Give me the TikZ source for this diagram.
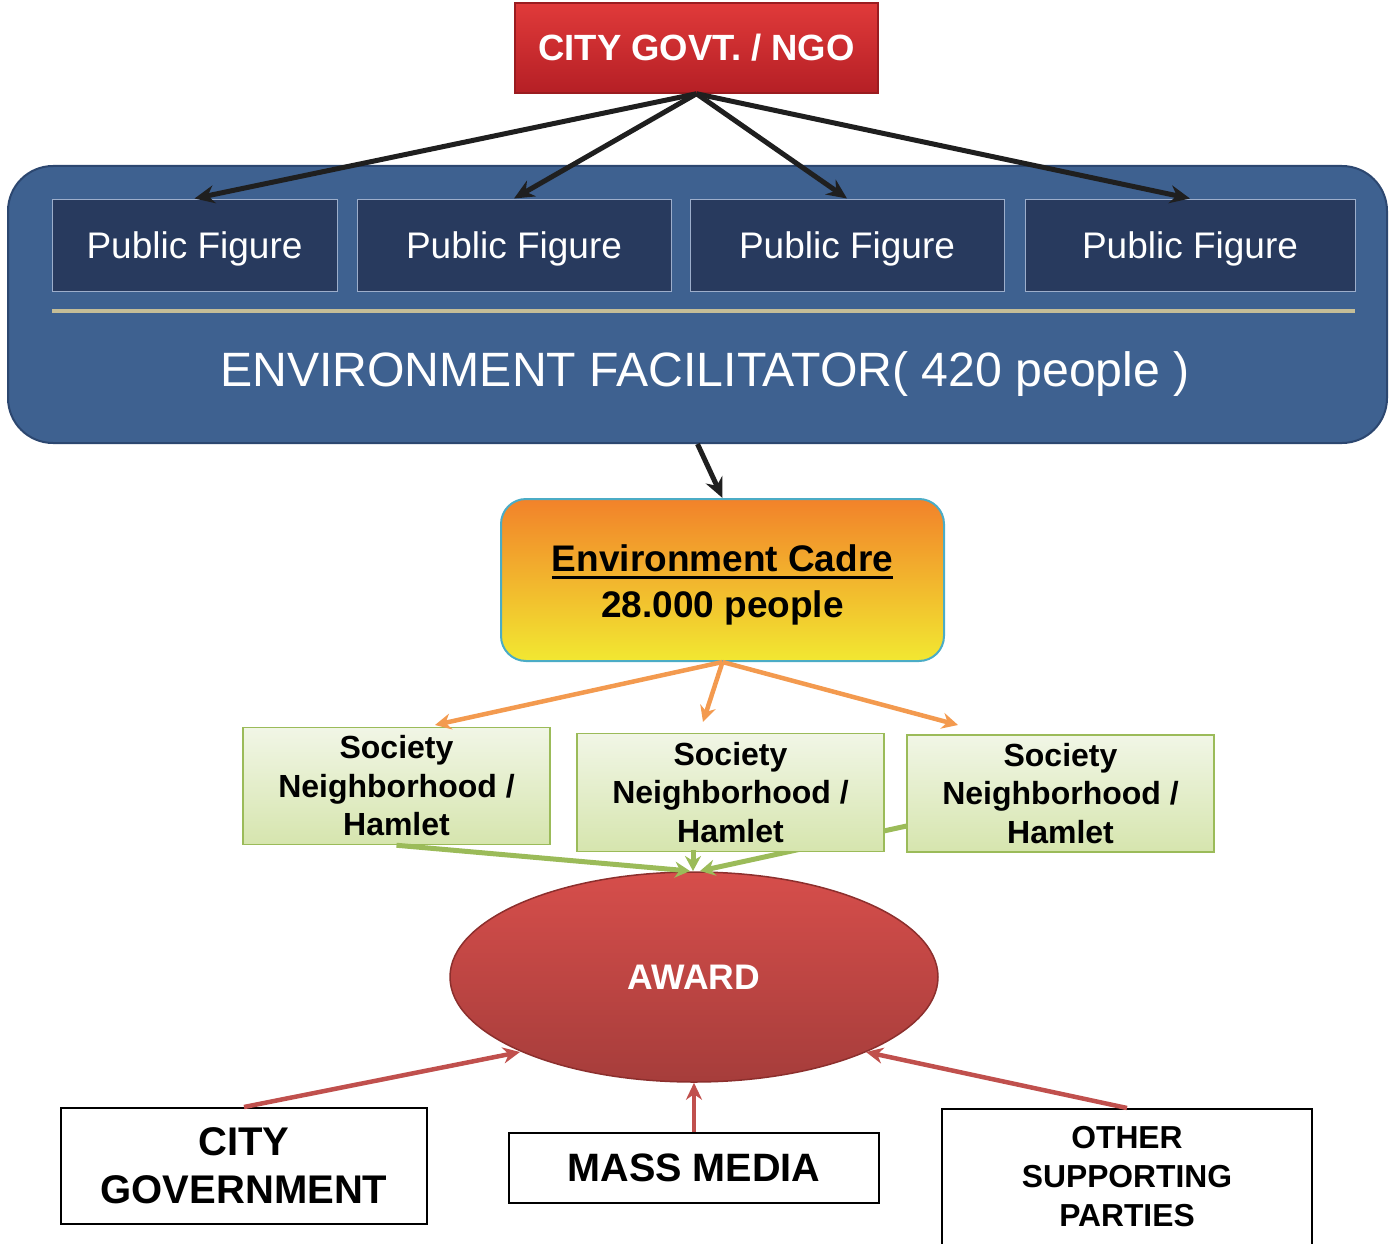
\documentclass[tikz,border=0pt]{standalone}
\usepackage{fontspec}
\setmainfont{Liberation Sans}
\usetikzlibrary{arrows.meta,shapes.geometric}
\definecolor{envblue}{HTML}{3E6190}
\definecolor{envborder}{HTML}{2C4770}
\definecolor{pfnavy}{HTML}{283A5E}
\definecolor{pfline}{HTML}{9DAECB}
\definecolor{tanline}{HTML}{C4BD97}
\definecolor{redtop}{HTML}{E03A3A}
\definecolor{redbot}{HTML}{B51F25}
\definecolor{redborder}{HTML}{9A1C20}
\definecolor{cadretop}{HTML}{F2822A}
\definecolor{cadrebot}{HTML}{F2E831}
\definecolor{cadreborder}{HTML}{4BACC6}
\definecolor{orangearr}{HTML}{F39A4F}
\definecolor{greentop}{HTML}{F1F6E6}
\definecolor{greenbot}{HTML}{D6E5AE}
\definecolor{greenborder}{HTML}{9BBB59}
\definecolor{awardtop}{HTML}{D64E4B}
\definecolor{awardbot}{HTML}{A63D3B}
\definecolor{awardborder}{HTML}{8C2F2D}
\definecolor{redarr}{HTML}{C0504D}
\newcommand\thickul[1]{\setbox0\hbox{#1}\rlap{\vrule width \wd0 height -4pt depth 7pt}#1}
\begin{document}
\begin{tikzpicture}[x=1pt,y=-1pt,
  pfbox/.style={draw=pfline, line width=1pt, fill=pfnavy, text=white,
    minimum height=92pt, inner sep=0pt, text height=27pt, text depth=0pt,
    font=\fontsize{37}{44}\selectfont},
  socbox/.style={draw=greenborder, line width=1.5pt, top color=greentop,
    bottom color=greenbot, minimum width=307pt, minimum height=117pt,
    inner sep=0pt, align=center, font=\bfseries\fontsize{32}{38.5}\selectfont},
  wbox/.style={draw=black, line width=2pt, fill=white, inner sep=0pt, align=center},
  blkarrow/.style={draw=black!88, line width=5pt, -{Stealth[length=20pt,width=18pt]}},
  orarrow/.style={draw=orangearr, line width=4.5pt, -{Stealth[length=16pt,width=16pt]}},
  grarrow/.style={draw=greenborder, line width=5pt, -{Stealth[length=15pt,width=16pt]}},
  rdarrow/.style={draw=redarr, line width=4.5pt, -{Stealth[length=17pt,width=16pt]}}
]
\useasboundingbox (0,0) rectangle (1390,1244);

% top box
\node[draw=redborder, line width=1.5pt, top color=redtop, bottom color=redbot,
  minimum width=363pt, minimum height=90pt, inner sep=0pt, text=white,
  font=\bfseries\fontsize{36.5}{44}\selectfont] (top) at (696.5,48) {CITY GOVT. / NGO};

% environment facilitator container
\node[draw=envborder, line width=2pt, fill=envblue, rounded corners=45pt,
  minimum width=1379pt, minimum height=277pt, inner sep=0pt] (env) at (697.5,304.5) {};
\node[pfbox, minimum width=285pt] (pf1) at (194.5,245) {Public Figure};
\node[pfbox, minimum width=314pt] (pf2) at (514,245) {Public Figure};
\node[pfbox, minimum width=314pt] (pf3) at (847,245) {Public Figure};
\node[pfbox, minimum width=330pt] (pf4) at (1190,245) {Public Figure};
\coordinate (tl1) at (52,311);
\coordinate (tl2) at (1355,311);
\draw[tanline, line width=4pt] (tl1) -- (tl2);
\node[text=white, font=\fontsize{48.2}{56}\selectfont, inner sep=0pt] (envtxt) at (705,374)
  {ENVIRONMENT FACILITATOR( 420 people )};

% black arrows
\draw[blkarrow] (top.south) -- (pf1.north);
\draw[blkarrow] (top.south) -- (pf2.north);
\draw[blkarrow] (top.south) -- (pf3.north);
\draw[blkarrow] (top.south) -- (pf4.north);

% cadre
\node[draw=cadreborder, line width=2pt, top color=cadretop, bottom color=cadrebot,
  rounded corners=25pt, minimum width=443pt, minimum height=162pt, inner sep=0pt] (cadre) at (722.5,580) {};
\node[align=center, inner sep=0pt, font=\bfseries\fontsize{37}{46}\selectfont] (cadretxt) at (722.5,585)
  {\thickul{Environment Cadre}\\28.000 people};
\draw[blkarrow] (env.south) -- (cadre.north);

% award
\node[ellipse, draw=awardborder, line width=1.5pt, top color=awardtop, bottom color=awardbot,
  minimum width=488pt, minimum height=210pt, inner sep=0pt, text=white,
  font=\bfseries\fontsize{35.5}{42}\selectfont] (aw) at (694,977) {AWARD};

% society boxes and green arrows
\coordinate (s3c) at (1060.5,792.5);
\coordinate (ga1) at (690,871);
\coordinate (ga2) at (693,871);
\coordinate (ga3) at (700,871);
\coordinate (g2) at (693,850);
\draw[grarrow] (s3c) -- (ga3);
\node[socbox] (s1) at (396.5,786) {Society\\Neighborhood /\\Hamlet};
\node[socbox, minimum height=118pt] (s2) at (730.5,792.5) {Society\\Neighborhood /\\Hamlet};
\node[socbox] (s3) at (1060.5,793.5) {Society\\Neighborhood /\\Hamlet};
\draw[grarrow] (s1.south) -- (ga1);
\draw[grarrow] (g2) -- (ga2);

% orange arrows
\coordinate (o1) at (435,725);
\coordinate (o2) at (703,722);
\coordinate (o3) at (958,725);
\draw[orarrow] (cadre.south) -- (o1);
\draw[orarrow] (cadre.south) -- (o2);
\draw[orarrow] (cadre.south) -- (o3);

% bottom boxes
\node[wbox, minimum width=366pt, minimum height=116pt,
  font=\bfseries\fontsize{40}{48}\selectfont] (cg) at (244,1166) {CITY\\GOVERNMENT};
\node[wbox, minimum width=370pt, minimum height=70pt,
  font=\bfseries\fontsize{39.6}{46}\selectfont] (mm) at (694,1168) {MASS MEDIA};
\node[wbox, minimum width=370pt, minimum height=136pt,
  font=\bfseries\fontsize{31.8}{39}\selectfont] (osp) at (1127,1177) {OTHER\\SUPPORTING\\PARTIES};

% red arrows
\coordinate (r1) at (520,1052);
\coordinate (r3) at (866,1052);
\draw[rdarrow] (cg.north) -- (r1);
\draw[rdarrow] (mm.north) -- (aw.south);
\draw[rdarrow] (osp.north) -- (r3);
\end{tikzpicture}
\end{document}
